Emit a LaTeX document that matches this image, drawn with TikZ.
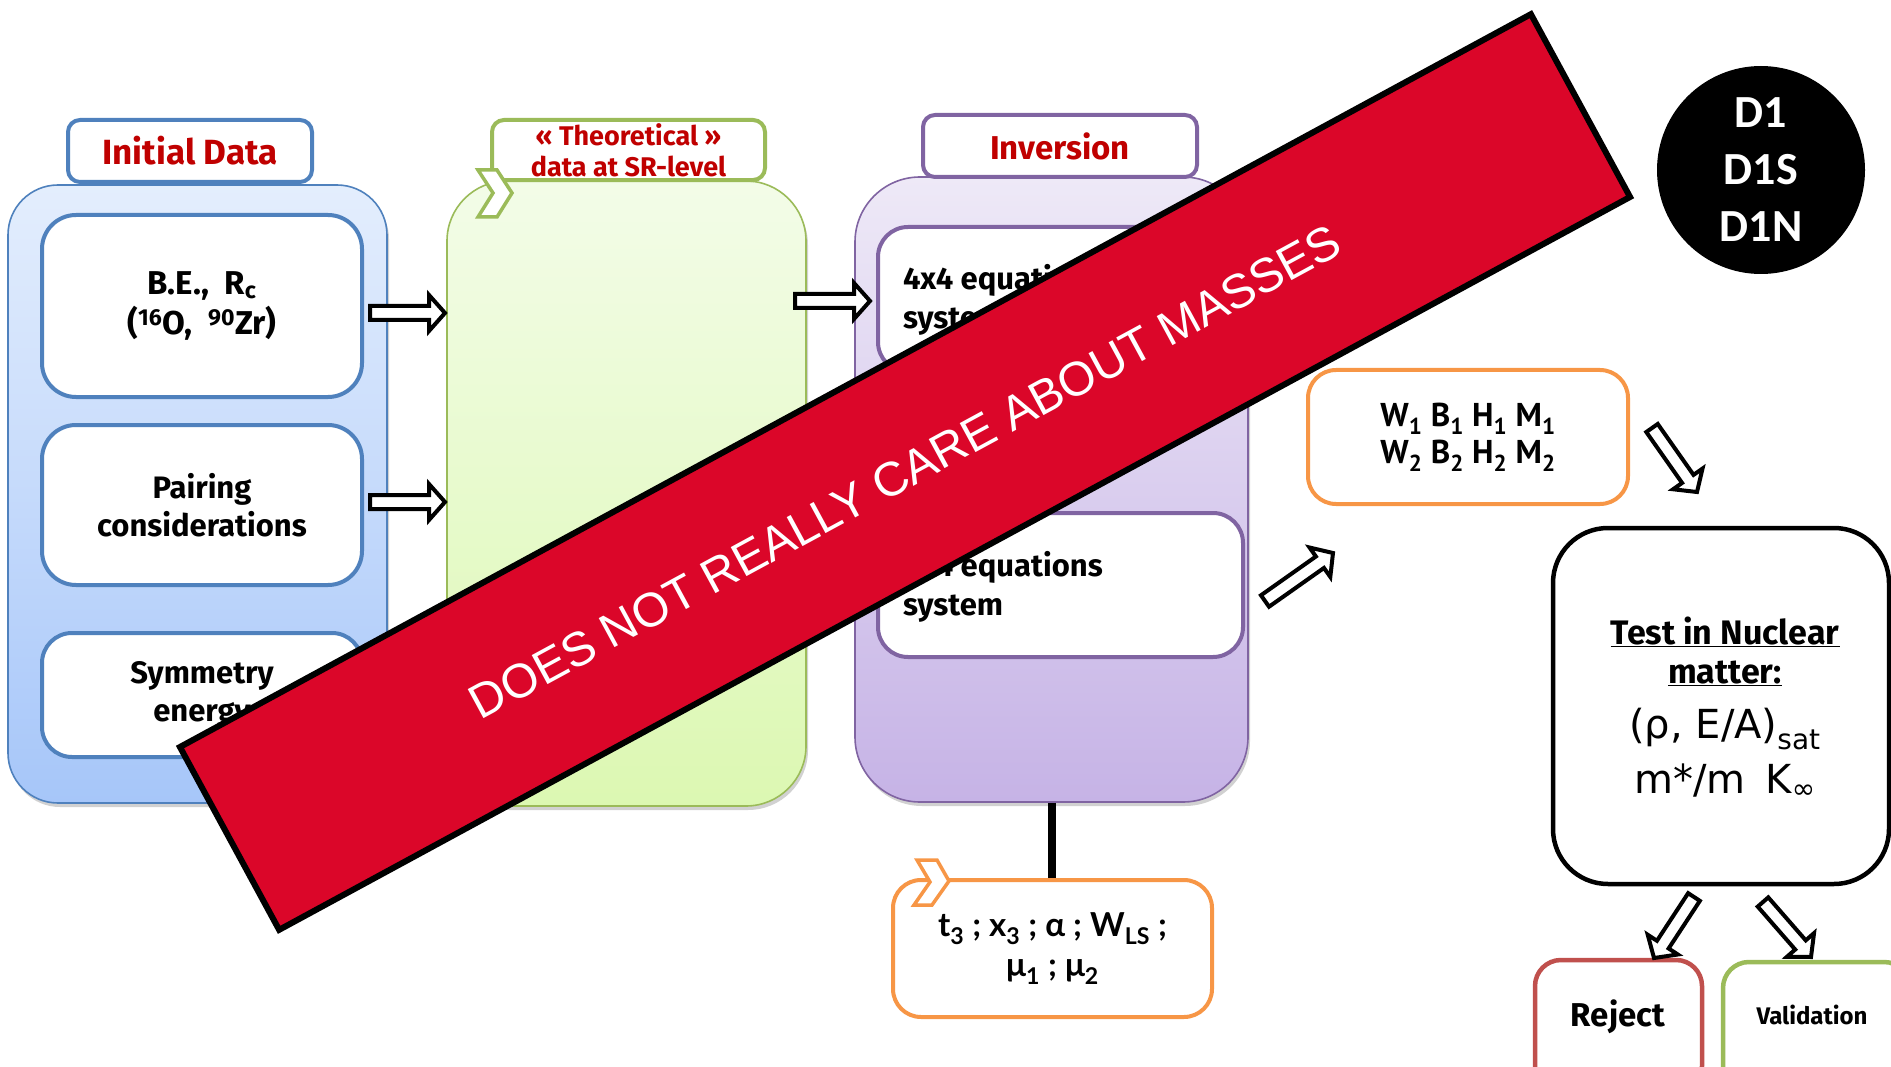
\documentclass[tikz,border=0pt]{standalone}
\usepackage{fontspec}
\setmainfont{Fira Sans}
\newfontfamily\mainf{Fira Sans}
\newfontfamily\tahoma{DejaVu Sans}
\newfontfamily\ptsans{PT Sans}
\newfontfamily\gill{Lato}
\newfontfamily\calib{Carlito}
\newfontfamily\arial{Liberation Sans}
\usetikzlibrary{calc,shadows}

\definecolor{hdrred}{HTML}{C00000}
\definecolor{bluedge}{HTML}{4F81BD}
\definecolor{bluetop}{HTML}{E4EEFD}
\definecolor{bluebot}{HTML}{A6C6F9}
\definecolor{greenedge}{HTML}{9BBB59}
\definecolor{greentop}{HTML}{F3FCE8}
\definecolor{greenbot}{HTML}{DCF8B2}
\definecolor{purpedge}{HTML}{8064A2}
\definecolor{purptop}{HTML}{EEE9F7}
\definecolor{purpbot}{HTML}{C6B3E6}
\definecolor{orangeedge}{HTML}{F79646}
\definecolor{rejectedge}{HTML}{C0504D}
\definecolor{bannerred}{HTML}{DB0629}

% box node from its corners: [options]{name}{x1}{y1}{x2}{y2}{text}
\newcommand\bx[7][]{%
  \pgfmathsetmacro\bxw{#5-#3}%
  \pgfmathsetmacro\bxh{#6-#4}%
  \pgfmathsetmacro\bxcx{(#3+#5)/2}%
  \pgfmathsetmacro\bxcy{(#4+#6)/2}%
  \node[#1, minimum width=\bxw pt, minimum height=\bxh pt] (#2) at (\bxcx,\bxcy) {#7};}

% hollow block arrow from a tail coordinate to a tip coordinate
\newcommand\blockarrow[3][]{%
  \coordinate (#2-hb) at ($(#3)!16pt!(#2)$);
  \draw[blockarr,#1] ($(#2)!7pt!90:(#3)$) -- ($(#2-hb)!7pt!-90:(#2)$)
    -- ($(#2-hb)!18pt!-90:(#2)$) -- (#3) -- ($(#2-hb)!18pt!90:(#2)$)
    -- ($(#2-hb)!7pt!90:(#2)$) -- ($(#2)!7pt!-90:(#3)$) -- cycle;}

\begin{document}
\begin{tikzpicture}[x=1pt,y=-1pt,
  bigbox/.style={draw, rounded corners=#1, line width=1.6pt,
    drop shadow={shadow xshift=2pt, shadow yshift=-4pt, opacity=0.18, fill=black}},
  hdr/.style={draw, line width=4pt, rounded corners=12pt, fill=white, text=hdrred,
    font=\mainf\bfseries\fontsize{33}{38}\selectfont, align=center},
  inner/.style={draw, line width=4pt, rounded corners=34pt, fill=white,
    font=\mainf\bfseries\fontsize{31}{38}\selectfont, align=center},
  txt/.style={font=\mainf\bfseries\fontsize{31}{39}\selectfont, align=left, inner sep=0pt},
  chev/.style={line width=3.5pt, fill=white, line join=miter},
  obox/.style={draw=orangeedge, line width=4pt, rounded corners=28pt, fill=white, align=center},
  blockarr/.style={draw=black, fill=white, line width=4pt, line join=miter},
  endbox/.style={line width=4.5pt, rounded corners=26pt, fill=white, draw},
  ]
\useasboundingbox (0,0) rectangle (1891,1067);
\clip (0,0) rectangle (1891,1067);

% ---- initial data column
\bx[bigbox=50pt, draw=bluedge, top color=bluetop, bottom color=bluebot]{blue}{8}{185}{387}{803}{}
\bx[hdr, draw=bluedge, font=\mainf\bfseries\fontsize{35}{40}\selectfont]{hdrinit}{68}{120}{312}{182}{Initial Data}
\bx[inner, draw=bluedge, font=\mainf\bfseries\fontsize{33}{40}\selectfont]{be}{42}{215}{362}{397}{B.E.,\ \ R\textsubscript{c}\\(\textsuperscript{16}O,\ \ \textsuperscript{90}Zr)}
\bx[inner, draw=bluedge]{pair}{42}{425}{362}{585}{Pairing\\considerations}
\bx[inner, draw=bluedge, rounded corners=30pt]{sym}{42}{633}{362}{757}{Symmetry\\energy}

% ---- theoretical data column
\bx[bigbox=60pt, draw=greenedge, top color=greentop, bottom color=greenbot]{green}{447}{181}{806}{806}{}
\bx[hdr, draw=greenedge, font=\mainf\bfseries\fontsize{27}{31}\selectfont]{hdrtheo}{492}{120}{765}{180}{« Theoretical »\\data at SR-level}
\draw[chev, draw=greenedge] (478,170) -- (497,170) -- (512,193) -- (497,217) -- (478,217) -- (493,193) -- cycle;

% ---- inversion column
\bx[bigbox=65pt, draw=purpedge, top color=purptop, bottom color=purpbot]{purple}{855}{177}{1248}{802}{}
\bx[hdr, draw=purpedge]{hdrinv}{923}{115}{1197}{177}{Inversion}
\bx[inner, draw=purpedge, rounded corners=30pt]{eqa}{878}{227}{1243}{372}{}
\node[txt, anchor=west] (eqat) at (903,300) {4x4 equations\\system};
\bx[inner, draw=purpedge, rounded corners=30pt]{eqb}{878}{513}{1243}{657}{}
\node[txt, anchor=west] (eqbt) at (903,587) {4x4 equations\\system};

% ---- fixed parameters
\bx[obox, font=\gill\bfseries\fontsize{33}{40}\selectfont]{params}{893}{880}{1212}{1017}{t\textsubscript{3}\ ;\ x\textsubscript{3}\ ;\ α\ ;\ W\textsubscript{LS}\ ;\\μ\textsubscript{1}\ ;\ μ\textsubscript{2}}
\draw[line width=8pt] (purple.south) -- (purple.south |- params.north);
\draw[chev, draw=orangeedge] (917,860) -- (937,860) -- (949,881) -- (932,905) -- (914,905) -- (930,882) -- cycle;

% ---- resulting parameters
\bx[obox, font=\ptsans\bfseries\fontsize{33}{37}\selectfont]{wbox}{1308}{370}{1628}{504}{W\textsubscript{1} B\textsubscript{1} H\textsubscript{1} M\textsubscript{1}\\W\textsubscript{2} B\textsubscript{2} H\textsubscript{2} M\textsubscript{2}}

% ---- nuclear matter test
\bx[endbox, draw=black, rounded corners=55pt]{test}{1553}{528}{1889}{884}{}
\node[font=\mainf\bfseries\fontsize{34}{39}\selectfont, align=center] (testt) at (1725,651) {\underline{Test in Nuclear}\\\underline{matter:}};
\node[font=\tahoma\fontsize{40}{46}\selectfont, inner sep=0pt] (sat) at (1725,729) {(ρ, E/A)\textsubscript{sat}};
\node[font=\tahoma\fontsize{40}{46}\selectfont, inner sep=0pt] (minf) at (1725,781) {m*/m\enspace K\textsubscript{∞}};

\bx[endbox, draw=rejectedge]{reject}{1535}{960}{1702}{1092}{}
\node[font=\mainf\bfseries\fontsize{33}{38}\selectfont] (rejt) at (1618,1017) {Reject};
\bx[endbox, draw=greenedge]{valid}{1723}{962}{1910}{1092}{}
\node[font=\mainf\bfseries\fontsize{24}{30}\selectfont] (valt) at (1812,1015) {Validation};

% ---- block arrows
\coordinate (a1s) at (370,313); \coordinate (a1e) at (445,313);
\coordinate (a2s) at (370,502); \coordinate (a2e) at (445,502);
\coordinate (a3s) at (795,301); \coordinate (a3e) at (870,301);
\coordinate (a4s) at (1265,601); \coordinate (a4e) at (1333,553);
\coordinate (a5s) at (1652,428); \coordinate (a5e) at (1697,492);
\coordinate (a6s) at (1694,897); \coordinate (a6e) at (1654,958);
\coordinate (a7s) at (1763,902); \coordinate (a7e) at (1811,957);
\blockarrow{a1s}{a1e}
\blockarrow{a2s}{a2e}
\blockarrow{a3s}{a3e}
\blockarrow{a4s}{a4e}
\blockarrow{a5s}{a5e}
\blockarrow{a6s}{a6e}
\blockarrow{a7s}{a7e}

% ---- interaction family badge
\node[circle, fill=black, minimum size=208pt, inner sep=0pt, text=white, align=center,
  font=\calib\bfseries\fontsize{46}{57}\selectfont] (dset) at (1761,170) {D1\\D1S\\D1N};

% ---- banner across the scheme
\node[draw=black, line width=6pt, fill=bannerred, rotate=28.48, line join=miter,
  minimum width=1537pt, minimum height=208pt, text=white,
  font=\arial\fontsize{48}{58}\selectfont] (banner) at (905,472) {DOES NOT REALLY CARE ABOUT MASSES};
\end{tikzpicture}
\end{document}
